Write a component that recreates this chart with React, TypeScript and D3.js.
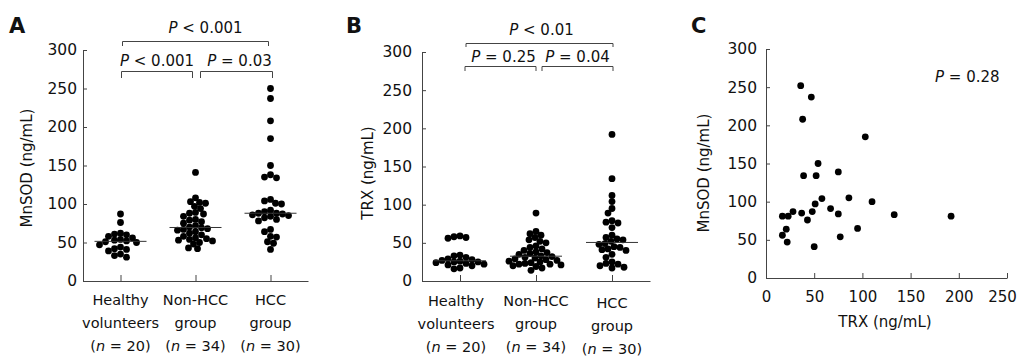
import React, { useEffect, useRef } from 'react';
import * as d3 from 'd3';

// groups shown on the dot plots
const groupNames = ['Healthy volunteers', 'Non-HCC group', 'HCC group'];
const groupLines = [['Healthy', 'volunteers'], ['Non-HCC', 'group'], ['HCC', 'group']];
const groupN = ['20', '34', '30'];

// panel A: MnSOD (ng/mL)
const mnsodHealthy = [87, 76, 62, 61, 60, 58, 56, 54, 53, 52, 51, 50, 47, 44, 42, 41, 39, 35, 33, 31];
const mnsodNonHcc = [141, 108, 103, 102, 101, 97, 94, 89, 88, 87, 84, 80, 79, 77, 75, 72, 70, 69, 68, 67, 66, 64, 62, 60, 58, 56, 55, 54, 53, 52, 50, 48, 43, 42];
const mnsodHcc = [250, 237, 208, 185, 150, 138, 135, 134, 106, 104, 101, 100, 92, 90, 88, 88, 87, 86, 85, 84, 82, 80, 78, 67, 64, 58, 57, 51, 49, 41];

// panel B: TRX (ng/mL)
const trxHealthy = [59, 58, 57, 56, 34, 33, 31, 29, 28, 27, 26, 25, 25, 24, 23, 22, 21, 20, 17, 16];
const trxNonHcc = [89, 65, 62, 60, 57, 54, 52, 50, 46, 44, 42, 40, 38, 37, 36, 35, 33, 32, 31, 30, 29, 28, 27, 26, 25, 24, 23, 22, 22, 21, 20, 19, 17, 14];
const trxHcc = [192, 134, 112, 104, 95, 89, 79, 77, 76, 70, 60, 57, 55, 54, 52, 49, 48, 45, 44, 42, 41, 40, 35, 31, 25, 23, 22, 20, 18, 17];

// panel C: HCC patients, TRX vs MnSOD
const trxC = [36, 47, 38, 103, 54, 39, 52, 75, 58, 86, 110, 51, 67, 28, 37, 48, 75, 133, 192, 17, 23, 43, 21, 95, 17, 77, 22, 50];
const mnsodC = [252, 237, 208, 185, 150, 134, 134, 139, 104, 105, 100, 97, 91, 87, 85, 87, 84, 83, 81, 81, 81, 76, 64, 65, 56, 54, 47, 41];

const yTicks = [0, 50, 100, 150, 200, 250, 300];
const xTicksC = [0, 50, 100, 150, 200, 250];

const FONT = '"DejaVu Sans", Verdana, sans-serif';
const AXIS = '#444';

// simple beeswarm: place each dot as close to the centre as it can go
function swarm(values: number[], y: (v: number) => number, cx: number, minDist: number) {
  const placed: { x: number; y: number }[] = [];
  const sorted = [...values].sort((a, b) => b - a);
  for (const v of sorted) {
    const py = y(v);
    let best = cx;
    for (let k = 0; k < 90; k++) {
      const px = cx + (k % 2 === 0 ? 1 : -1) * Math.ceil(k / 2);
      if (placed.every(p => (p.x - px) ** 2 + (p.y - py) ** 2 >= minDist * minDist)) {
        best = px;
        break;
      }
    }
    placed.push({ x: best, y: py });
  }
  return placed;
}

function pText(g: any, x: number, y: number, op: string, val: string, anchor = 'middle') {
  const t = g.append('text')
    .attr('x', x).attr('y', y)
    .attr('text-anchor', anchor)
    .attr('font-size', 15);
  t.append('tspan').attr('font-style', 'italic').text('P');
  t.append('tspan').text(` ${op} ${val}`);
}

function drawDotPanel(svg: any, o: any) {
  const g = svg.append('g');
  const y = d3.scaleLinear().domain([0, 300]).range([o.yBottom, o.yTop]);
  const x = d3.scalePoint<string>().domain(groupNames).range([o.x0, o.x1]).padding(0.5);

  const yAxis = g.append('g')
    .attr('transform', `translate(${o.x0},0)`)
    .call(d3.axisLeft(y).tickValues(yTicks).tickSizeInner(-4).tickSizeOuter(0).tickPadding(o.tickGap));
  yAxis.selectAll('text').attr('font-size', 15.5).attr('font-family', FONT).attr('fill', '#111');
  yAxis.selectAll('line,path').attr('stroke', AXIS);

  const xAxis = g.append('g')
    .attr('transform', `translate(0,${o.yBottom})`)
    .call(d3.axisBottom(x).tickSizeInner(-6).tickSizeOuter(0).tickFormat(() => ''));
  xAxis.selectAll('line,path').attr('stroke', AXIS);

  // category labels
  groupNames.forEach((name, i) => {
    const cx = x(name)! + (o.labelDx ? o.labelDx[i] : 0);
    const dy = o.labelDy ? o.labelDy[i] : 0;
    groupLines[i].forEach((line, j) => {
      g.append('text').attr('x', cx).attr('y', 305 + j * 23 + dy)
        .attr('text-anchor', 'middle').attr('font-size', 14.5).text(line);
    });
    const t = g.append('text').attr('x', cx).attr('y', 351 + dy)
      .attr('text-anchor', 'middle').attr('font-size', 14.5);
    t.append('tspan').text('(');
    t.append('tspan').attr('font-style', 'italic').text('n');
    t.append('tspan').text(` = ${groupN[i]})`);
  });

  // dots and medians
  o.data.forEach((vals: number[], i: number) => {
    const cx = x(groupNames[i])!;
    const pts = swarm(vals, y, cx, 6);
    g.append('g').selectAll('circle').data(pts).enter().append('circle')
      .attr('cx', (d: any) => d.x).attr('cy', (d: any) => d.y).attr('r', 3.4).attr('fill', '#000');
    const med = d3.median(vals)!;
    g.append('line')
      .attr('x1', cx - 26).attr('x2', cx + 26)
      .attr('y1', y(med)).attr('y2', y(med))
      .attr('stroke', '#333').attr('stroke-width', 1);
  });

  // significance brackets
  o.brackets.forEach((b: any) => {
    const xa = x(groupNames[b.from])! + b.dxa;
    const xb = x(groupNames[b.to])! + b.dxb;
    g.append('path')
      .attr('d', `M${xa},${b.y + b.h}V${b.y + 0.5}H${xb}V${b.y + b.h}`)
      .attr('fill', 'none').attr('stroke', AXIS).attr('stroke-width', 1);
    pText(g, (xa + xb) / 2 + b.tdx, b.ty, b.op, b.val);
  });

  // axis title
  g.append('text')
    .attr('transform', `translate(${o.titleX},${o.titleY}) rotate(-90)`)
    .attr('text-anchor', 'middle').attr('font-size', 15).text(o.title);

  g.append('text').attr('x', o.letterX).attr('y', 33)
    .attr('font-size', 21).attr('font-weight', 'bold').text(o.letter);
}

const App: React.FC = () => {
  const svgRef = useRef<SVGSVGElement | null>(null);

  useEffect(() => {
    document.body.style.margin = '0';
    if (!svgRef.current) return;
    const svg = d3.select(svgRef.current);
    svg.selectAll('*').remove();

    drawDotPanel(svg, {
      x0: 83, x1: 308, yTop: 50, yBottom: 281, tickGap: 6,
      data: [mnsodHealthy, mnsodNonHcc, mnsodHcc],
      title: 'MnSOD (ng/mL)', titleX: 32, titleY: 168,
      letter: 'A', letterX: 9,
      brackets: [
        { from: 0, to: 2, dxa: 2, dxb: -2, y: 41, h: 5, ty: 33, tdx: 10, op: '<', val: '0.001' },
        { from: 0, to: 1, dxa: 1, dxb: -3, y: 71, h: 7, ty: 66, tdx: 0, op: '<', val: '0.001' },
        { from: 1, to: 2, dxa: 5, dxb: 2, y: 71, h: 7, ty: 66, tdx: 3, op: '=', val: '0.03' },
      ],
    });

    drawDotPanel(svg, {
      x0: 422, x1: 650, yTop: 52, yBottom: 281, tickGap: 10,
      data: [trxHealthy, trxNonHcc, trxHcc],
      title: 'TRX (ng/mL)', titleX: 373, titleY: 173,
      letter: 'B', letterX: 346,
      labelDx: [-4, 0, 0], labelDy: [1, 1, 3],
      brackets: [
        { from: 0, to: 2, dxa: 6, dxb: 1, y: 43, h: 4, ty: 35, tdx: 2, op: '<', val: '0.01' },
        { from: 0, to: 1, dxa: 5, dxb: 0, y: 66, h: 5, ty: 62, tdx: 3, op: '=', val: '0.25' },
        { from: 1, to: 2, dxa: 6, dxb: 1, y: 66, h: 5, ty: 62, tdx: 0, op: '=', val: '0.04' },
      ],
    });

    // panel C scatter
    const g = svg.append('g');
    const x = d3.scaleLinear().domain([0, 250]).range([766, 1007]);
    const y = d3.scaleLinear().domain([0, 300]).range([278, 49]);

    const yAxis = g.append('g').attr('transform', 'translate(766,0)')
      .call(d3.axisLeft(y).tickValues(yTicks).tickSizeInner(-4).tickSizeOuter(0).tickPadding(9));
    yAxis.selectAll('text').attr('font-size', 15.5).attr('font-family', FONT).attr('fill', '#111');
    yAxis.selectAll('line,path').attr('stroke', AXIS);

    const xAxis = g.append('g').attr('transform', 'translate(0,278)')
      .call(d3.axisBottom(x).tickValues(xTicksC).tickSizeInner(-5).tickSizeOuter(0).tickPadding(13));
    xAxis.selectAll('text').attr('font-size', 15).attr('font-family', FONT).attr('fill', '#111')
      .attr('dx', (d: number) => (d === 250 ? -5 : 0));
    xAxis.selectAll('line,path').attr('stroke', AXIS);

    g.append('g').selectAll('circle').data(trxC).enter().append('circle')
      .attr('cx', (d: number) => x(d)).attr('cy', (_: number, i: number) => y(mnsodC[i]))
      .attr('r', 3.4).attr('fill', '#000');

    g.append('text').attr('x', 885).attr('y', 327).attr('text-anchor', 'middle')
      .attr('font-size', 15).text('TRX (ng/mL)');
    g.append('text').attr('transform', 'translate(709,173) rotate(-90)')
      .attr('text-anchor', 'middle').attr('font-size', 15).text('MnSOD (ng/mL)');
    pText(g, 935, 82, '=', '0.28', 'start');
    g.append('text').attr('x', 691).attr('y', 33)
      .attr('font-size', 21).attr('font-weight', 'bold').text('C');
  }, []);

  return (
    <svg ref={svgRef} width={1020} height={357}
      style={{ display: 'block', background: '#fff', fontFamily: FONT }} fill="#111" />
  );
};

export default App;
